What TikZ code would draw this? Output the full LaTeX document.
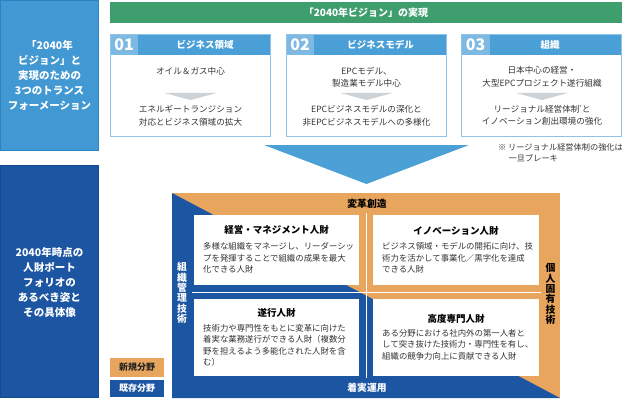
\documentclass[tikz,border=0pt]{standalone}
\usepackage{fontspec}
\setmainfont{Noto Sans CJK JP}
\definecolor{lbox}{HTML}{4298D2}
\definecolor{lboxedge}{HTML}{2F80C0}
\definecolor{grn}{HTML}{3E9E6E}
\definecolor{hdr}{HTML}{4A9FD7}
\definecolor{numbg}{HTML}{7DB9E2}
\definecolor{bxedge}{HTML}{8FC4E8}
\definecolor{arrowc}{HTML}{4BA1D6}
\definecolor{dblue}{HTML}{1C56A2}
\definecolor{dblueedge}{HTML}{164A8E}
\definecolor{orng}{HTML}{E7A55E}
\definecolor{txt}{HTML}{333333}
\definecolor{chev}{HTML}{CDD2D7}
\newcommand{\myfs}[2]{\fontsize{#1}{#2}\selectfont}
\tikzset{
  sidetxt/.style={text=white, font=\bfseries\myfs{10.5}{15}, align=center, inner sep=0},
  boxtxt/.style={text=txt, font=\myfs{8.6}{12.5}, align=center, inner sep=0},
  hdrtxt/.style={text=white, font=\bfseries\myfs{9.5}{11}, inner sep=0},
  numtxt/.style={text=white, font=\bfseries\myfs{16}{16}, inner sep=0},
  cardttl/.style={text=black, font=\bfseries\myfs{9.5}{11}, inner sep=0},
  cardtxt/.style={text=txt, font=\myfs{8.4}{11.6}, align=left, anchor=west, inner sep=0},
  striptxt/.style={font=\bfseries\myfs{9.8}{10.3}, align=center, inner sep=0},
  legtxt/.style={font=\bfseries\myfs{9}{11}, inner sep=0},
  notetxt/.style={text=txt, font=\myfs{8.2}{10}, anchor=west, inner sep=0},
  cardbox/.style={fill=white},
}
\begin{document}
\begin{tikzpicture}[x=1pt,y=-1pt]
\useasboundingbox (0,0) rectangle (623,401);
% left boxes
\filldraw[fill=lbox, draw=lboxedge, line width=0.8] (0.4,0.4) rectangle (98.6,150.6);
\node[sidetxt] (lefttop) at (49.5,75) {「2040年\\ビジョン」と\\実現のための\\3つのトランス\\フォーメーション};
\filldraw[fill=dblue, draw=dblueedge, line width=0.8] (0.4,165.4) rectangle (98.6,397.6);
\node[sidetxt] (leftbot) at (49.5,282) {2040年時点の\\人財ポート\\フォリオの\\あるべき姿と\\その具体像};
% green bar
\fill[grn] (110,2) rectangle (622,23);
\node[text=white, font=\bfseries\myfs{10}{12}, inner sep=0] (goal) at (366,12.5) {「2040年ビジョン」の実現};
% column box 01
\fill[hdr] (110,34) rectangle (271,55);
\fill[numbg] (110,34) rectangle (138,55);
\draw[bxedge, line width=0.9] (110.5,34.5) rectangle (270.5,136.5);
\node[numtxt] (n1) at (124,44.5) {01};
\node[hdrtxt] (t1) at (205,44.5) {ビジネス領域};
\node[boxtxt] (a1) at (190.5,71) {オイル＆ガス中心};
\fill[chev] (164.5,93) -- (216.5,93) -- (190.5,100) -- cycle;
\node[boxtxt] (c1) at (190.5,115.5) {エネルギートランジション\\対応とビジネス領域の拡大};
% column box 02
\fill[hdr] (286,34) rectangle (447,55);
\fill[numbg] (286,34) rectangle (314,55);
\draw[bxedge, line width=0.9] (286.5,34.5) rectangle (446.5,136.5);
\node[numtxt] (n2) at (300,44.5) {02};
\node[hdrtxt] (t2) at (380.5,44.5) {ビジネスモデル};
\node[boxtxt] (a2) at (366.5,77) {EPCモデル、\\製造業モデル中心};
\fill[chev] (340.5,93) -- (392.5,93) -- (366.5,100) -- cycle;
\node[boxtxt] (c2) at (366.5,115.5) {EPCビジネスモデルの深化と\\非EPCビジネスモデルへの多様化};
% column box 03
\fill[hdr] (461,34) rectangle (622,55);
\fill[numbg] (461,34) rectangle (490,55);
\draw[bxedge, line width=0.9] (461.5,34.5) rectangle (621.5,136.5);
\node[numtxt] (n3) at (475.5,44.5) {03};
\node[hdrtxt] (t3) at (550,44.5) {組織};
\node[boxtxt] (a3) at (542,77) {日本中心の経営・\\大型EPCプロジェクト遂行組織};
\fill[chev] (516,93) -- (568,93) -- (542,100) -- cycle;
\node[boxtxt] (c3) at (542,115.5) {リージョナル経営体制\raisebox{2.5pt}{\myfs{5}{5}*}と\\イノベーション創出環境の強化};
% note
\node[notetxt] (note1) at (498,147) {※ リージョナル経営体制の強化は};
\node[notetxt] (note2) at (508.5,158) {一旦ブレーキ};
% big arrow
\fill[arrowc] (264,145) -- (469,145) -- (366.5,184) -- cycle;
% quadrant background
\fill[orng] (172,193) rectangle (560,398);
\fill[dblue] (172,193) -- (560,398) -- (172,398) -- cycle;
\draw[white, line width=0.9] (192,292) -- (541,292);
\draw[white, line width=0.9] (366,213) -- (366,378);
% cards
\fill[cardbox] (194,215) rectangle (359,285);
\fill[cardbox] (373,215) rectangle (539,285);
\fill[cardbox] (194,299) rectangle (359,376);
\fill[cardbox] (373,299) rectangle (539,376);
\node[cardttl] (h1) at (276.5,230) {経営・マネジメント人財};
\node[cardtxt] (b1) at (203,257.8) {多様な組織をマネージし、リーダーシッ\\プを発揮することで組織の成果を最大\\化できる人財};
\node[cardttl] (h2) at (456,231) {イノベーション人財};
\node[cardtxt] (b2) at (382,257.8) {ビジネス領域・モデルの開拓に向け、技\\術力を活かして事業化／黒字化を達成\\できる人財};
\node[cardttl] (h3) at (276.5,313) {遂行人財};
\node[cardtxt] (b3) at (203,345.4) {技術力や専門性をもとに変革に向けた\\着実な業務遂行ができる人財（複数分\\野を担えるよう多能化された人財を含\\む）};
\node[cardttl] (h4) at (456,319) {高度専門人財};
\node[cardtxt] (b4) at (382,344.5) {ある分野における社内外の第一人者と\\して突き抜けた技術力・専門性を有し、\\組織の競争力向上に貢献できる人財};
% strip labels
\node[striptxt, text=black] (top) at (367,204) {変革創造};
\node[striptxt, text=white] (bot) at (367,387.5) {着実運用};
\node[striptxt, text=white] (lft) at (182,293) {組\\織\\管\\理\\技\\術};
\node[striptxt, text=black] (rgt) at (550.5,294) {個\\人\\固\\有\\技\\術};
% legend
\node[fill=orng, minimum width=54, minimum height=19, inner sep=0, legtxt, text=black!85] (leg1) at (137,367.5) {新規分野};
\node[fill=dblue, minimum width=54, minimum height=17, inner sep=0, legtxt, text=white] (leg2) at (137,388.5) {既存分野};
\end{tikzpicture}
\end{document}
